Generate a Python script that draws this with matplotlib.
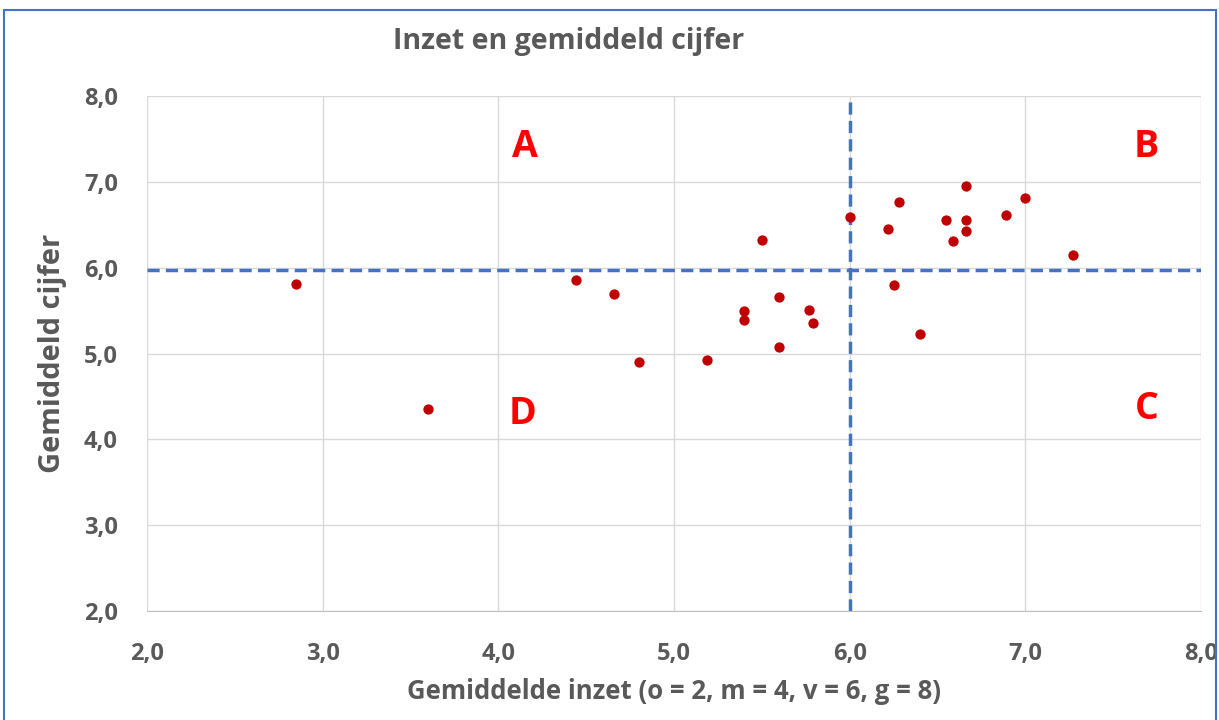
import matplotlib.pyplot as plt
from matplotlib.patches import Rectangle

# data
inzet = [2.85, 3.60, 4.44, 4.66, 4.80, 5.19, 5.40, 5.40, 5.50, 5.60, 5.60, 5.77, 5.79,
         6.00, 6.22, 6.25, 6.28, 6.40, 6.55, 6.59, 6.66, 6.66, 6.66, 6.89, 7.00, 7.27]
cijfer = [5.81, 4.35, 5.86, 5.69, 4.90, 4.93, 5.50, 5.39, 6.32, 5.66, 5.08, 5.51, 5.35,
          6.59, 6.45, 5.80, 6.76, 5.23, 6.55, 6.31, 6.95, 6.56, 6.43, 6.61, 6.81, 6.15]
grens_x = 6.0
grens_y = 5.97
kwadranten = ['A', 'B', 'C', 'D']
kwadrant_pos = [(4.15, 7.41), (7.69, 7.41), (7.69, 4.35), (4.14, 4.30)]
ticks = [2, 3, 4, 5, 6, 7, 8]

plt.rcParams['font.family'] = ['Open Sans', 'DejaVu Sans']
grey = '#595959'

fig = plt.figure(figsize=(12.19, 7.20), dpi=100)
ax = fig.add_axes([147 / 1219, 1 - 611 / 720, (1201 - 147) / 1219, (611 - 96) / 720])

ax.scatter(inzet, cijfer, s=55, color='#C00000', zorder=3, linewidths=0)
ax.axvline(grens_x, color='#4472C4', lw=2.5, ls=(0, (3.5, 1.8)), zorder=2)
ax.axhline(grens_y, color='#4472C4', lw=2.5, ls=(0, (3.5, 1.8)), zorder=2)

for lbl, (x, y) in zip(kwadranten, kwadrant_pos):
    ax.text(x, y, lbl, color='#FF0000', fontsize=27, fontweight='bold',
            ha='center', va='center')

ax.set_xlim(2, 8)
ax.set_ylim(2, 8)
ax.set_xticks(ticks)
ax.set_yticks(ticks)
ax.set_xticklabels([f'{t},0' for t in ticks])
ax.set_yticklabels([f'{t},0' for t in ticks])
ax.tick_params(length=0, labelsize=17, labelcolor=grey)
ax.tick_params(axis='x', pad=22)
ax.tick_params(axis='y', pad=21)
for lab in ax.get_xticklabels() + ax.get_yticklabels():
    lab.set_fontweight('bold')
ax.grid(True, color='#D9D9D9', lw=1)
ax.set_axisbelow(True)
for s in ['top', 'right', 'left']:
    ax.spines[s].set_visible(False)
ax.spines['bottom'].set_color('#BFBFBF')

ax.set_xlabel('Gemiddelde inzet (o = 2, m = 4, v = 6, g = 8)', fontsize=18.5,
              fontweight='bold', color=grey, labelpad=9)
ax.set_ylabel('Gemiddeld cijfer', fontsize=21, fontweight='bold', color=grey, labelpad=12)
fig.text(569 / 1219, 1 - 42 / 720, 'Inzet en gemiddeld cijfer', fontsize=20.5,
         fontweight='bold', color=grey, ha='center', va='center')

# chart frame
fig.patches.append(Rectangle((4 / 1219, -0.05), 1212 / 1219, 1.05 - 10 / 720,
                             transform=fig.transFigure, fill=False,
                             edgecolor='#4472C4', lw=1.5))

fig.savefig('out.png', dpi=100)
